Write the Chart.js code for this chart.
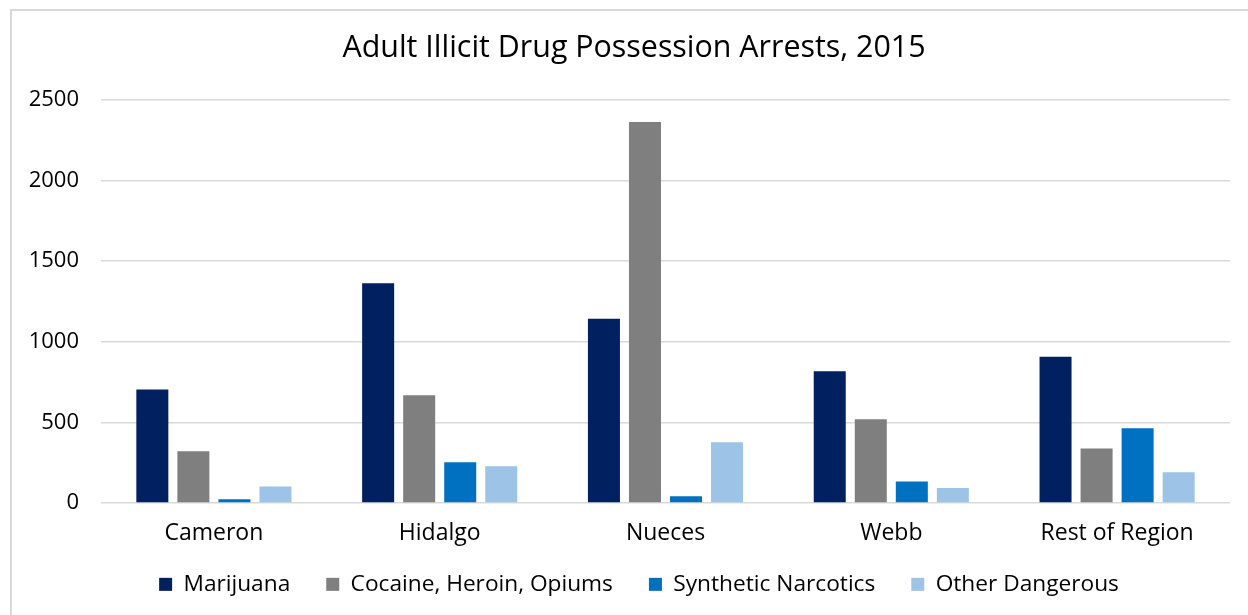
<!DOCTYPE html>
<html>
<head>
<meta charset="utf-8">
<title>Adult Illicit Drug Possession Arrests, 2015</title>
<script src="https://cdn.jsdelivr.net/npm/chart.js@4.4.1/dist/chart.umd.min.js"></script>
<style>
  html, body { margin: 0; padding: 0; background: #ffffff; }
  body { width: 1248px; height: 615px; overflow: hidden; position: relative; }
  #frame {
    position: absolute; left: 10px; top: 9px; width: 1300px; height: 700px;
    border-left: 2px solid #d9d9d9; border-top: 2px solid #d9d9d9;
    box-sizing: border-box; pointer-events: none;
  }
  #wrap { position: absolute; left: 0; top: 0; width: 1248px; height: 615px; }
</style>
</head>
<body>
<div id="wrap"><canvas id="chart" width="1248" height="615"></canvas></div>
<div id="frame"></div>
<script>
// Counties in the region
const categories = ['Cameron', 'Hidalgo', 'Nueces', 'Webb', 'Rest of Region'];

// Arrest counts per drug type
const marijuana = [704, 1363, 1143, 818, 907];
const cocaineHeroinOpiums = [321, 669, 2363, 520, 338];
const syntheticNarcotics = [23, 253, 42, 133, 464];
const otherDangerous = [102, 228, 377, 93, 191];

// Value axis ticks
const yTicks = [0, 500, 1000, 1500, 2000, 2500];

const FONT = "'Open Sans', 'Noto Sans', sans-serif";
const TEXT = '#000000';

const datasets = [
  { label: 'Marijuana', data: marijuana, backgroundColor: '#002060' },
  { label: 'Cocaine, Heroin, Opiums', data: cocaineHeroinOpiums, backgroundColor: '#7f7f7f' },
  { label: 'Synthetic Narcotics', data: syntheticNarcotics, backgroundColor: '#0070c0' },
  { label: 'Other Dangerous', data: otherDangerous, backgroundColor: '#9dc3e6' }
];

// Title and legend are centred on the whole frame rather than the plot,
// and the legend keeps a fixed reserved height tucked under the axis labels.
const blockPlacement = {
  id: 'blockPlacement',
  beforeInit(chart) {
    const fit = chart.legend.fit;
    chart.legend.fit = function () {
      fit.call(this);
      this.height = 66;
    };
  },
  afterLayout(chart) {
    const lg = chart.legend;
    const h = lg.bottom - lg.top;
    lg.top = 537;
    lg.bottom = lg.top + h;
    lg.left += 24;
    lg.right += 24;
    const tb = chart.titleBlock;
    tb.left += 19;
    tb.right += 19;
  }
};

new Chart(document.getElementById('chart'), {
  type: 'bar',
  data: { labels: categories, datasets },
  plugins: [blockPlacement],
  options: {
    responsive: false,
    animation: false,
    devicePixelRatio: 1,
    layout: { padding: { left: 0, right: 18, top: 0, bottom: 1 } },
    datasets: { bar: { categoryPercentage: 0.727, barPercentage: 0.78 } },
    scales: {
      x: {
        afterFit: (scale) => { scale.height = 45; },
        grid: { display: false, drawTicks: false },
        border: { display: false },
        ticks: { color: TEXT, font: { family: FONT, size: 23 }, padding: 17 }
      },
      y: {
        min: 0,
        max: yTicks[yTicks.length - 1],
        afterBuildTicks: (scale) => { scale.ticks = yTicks.map(v => ({ value: v })); },
        afterFit: (scale) => { scale.width = 101; },
        grid: { color: '#d9d9d9', lineWidth: 1.5, drawTicks: false },
        border: { display: false },
        ticks: {
          color: TEXT,
          font: { family: FONT, size: 22 },
          padding: 22,
          callback: (v) => String(v)
        }
      }
    },
    plugins: {
      title: {
        display: true,
        text: 'Adult Illicit Drug Possession Arrests, 2015',
        color: TEXT,
        font: { family: FONT, size: 30.4, weight: 'normal' },
        padding: { top: 29.8, bottom: 33.7 }
      },
      legend: {
        position: 'bottom',
        labels: {
          color: TEXT,
          font: { family: FONT, size: 22.7 },
          boxWidth: 13,
          boxHeight: 13,
          padding: 36
        }
      },
      tooltip: { enabled: false }
    }
  }
});
</script>
</body>
</html>
